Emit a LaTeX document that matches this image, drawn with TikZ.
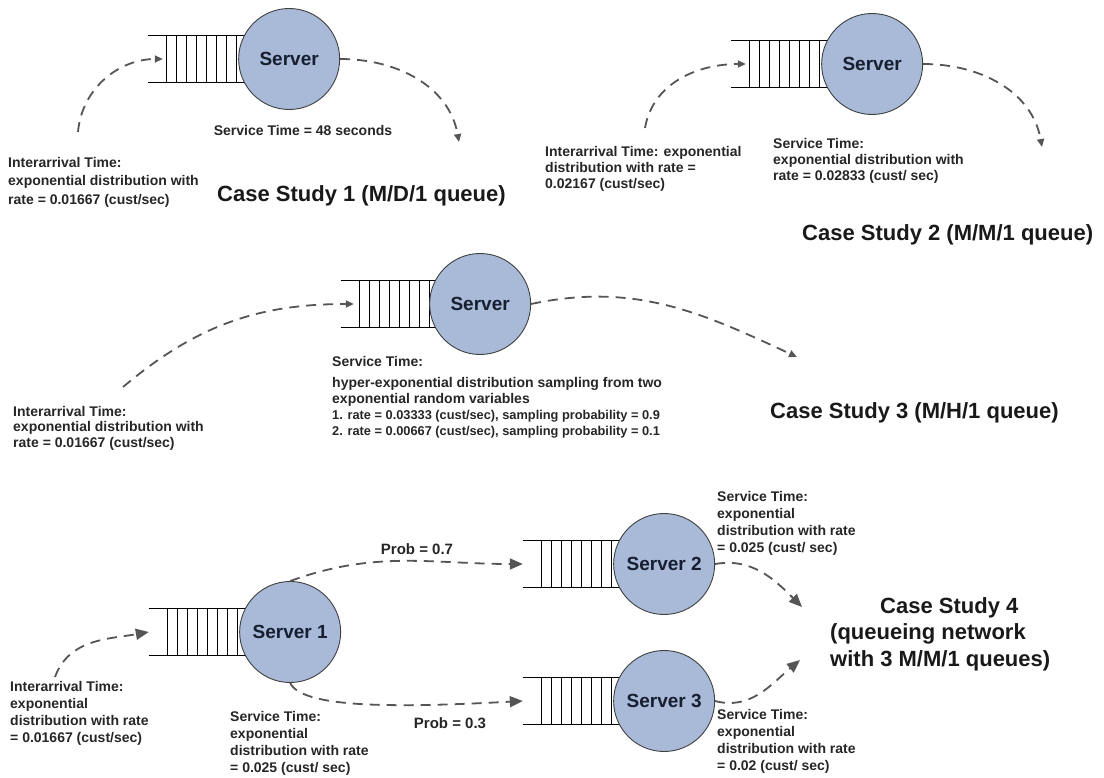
\documentclass[tikz,border=0pt]{standalone}
\usepackage{fontspec}
\setmainfont{Liberation Sans}
\usetikzlibrary{arrows.meta, positioning}

\definecolor{serverfill}{RGB}{168,186,216}
\definecolor{servertext}{RGB}{22,30,48}
\definecolor{flowgray}{RGB}{85,85,85}

\begin{document}
\begin{tikzpicture}[x=1pt, y=1pt,
  queue/.style={minimum width=90pt, minimum height=47pt, inner sep=0pt},
  server/.style={circle, draw=black!75, line width=0.9pt, fill=serverfill,
    minimum size=101pt, inner sep=0pt, text=servertext,
    font=\fontsize{19}{22}\selectfont\bfseries},
  flow/.style={draw=flowgray, line width=1.8pt, dash pattern=on 10pt off 7pt,
    -{Triangle[length=8pt, width=7pt]}},
  bigflow/.style={flow, -{Triangle[length=13pt, width=11pt]}},
  notetext/.style={anchor=north west, inner sep=0pt, align=left, text=black!85,
    font=\fontsize{14}{17}\selectfont\bfseries},
  probtext/.style={inner sep=0pt, text=black!85,
    font=\fontsize{15}{18}\selectfont\bfseries},
  casetitle/.style={anchor=west, inner sep=0pt, text=black!90,
    font=\fontsize{22}{26.5}\selectfont\bfseries}]

  \useasboundingbox (0,0) rectangle (1104,-778);

  % queues (only their place, the lines come below)
  \node[queue] (q1)  at (193,-59)  {};
  \node[queue] (q2)  at (776,-64)  {};
  \node[queue] (q3)  at (386,-304) {};
  \node[queue] (q41) at (194,-632) {};
  \node[queue] (q42) at (568,-564) {};
  \node[queue] (q43) at (568,-701) {};

  \foreach \q in {q1,q2,q3,q41,q42,q43} {
    \draw[line width=0.9pt] (\q.north west) -- ++(120,0);
    \draw[line width=0.9pt] (\q.south west) -- ++(120,0);
    \foreach \i in {0,...,7}
      \draw[line width=0.9pt] ([xshift={19pt+10pt*\i}]\q.south west)
        -- ([xshift={19pt+10pt*\i}]\q.north west);
  }

  % servers sit right of their queues
  \node[server, right=0pt of q1]  (s1)  {Server};
  \node[server, right=0pt of q2]  (s2)  {Server};
  \node[server, right=-2pt of q3] (s3)  {Server};
  \node[server, right=0pt of q41] (s41) {Server 1};
  \node[server, right=0pt of q42] (s42) {Server 2};
  \node[server, right=0pt of q43] (s43) {Server 3};

  % free ends of the arrows
  \coordinate (in1)  at (78,-132);
  \coordinate (out1) at (459,-142);
  \coordinate (in2)  at (645,-128);
  \coordinate (out2) at (1042,-147);
  \coordinate (in3)  at (123,-387);
  \coordinate (out3) at (797,-357);
  \coordinate (in4)  at (55,-677);
  \coordinate (out42) at (802,-607);
  \coordinate (out43) at (800,-660);

  % Case Study 1
  \draw[flow] (in1) to[out=85, in=180] ([xshift=15pt]q1.west);
  \draw[flow] (s1.east) to[out=0, in=100] (out1);
  % Case Study 2
  \draw[flow] (in2) to[out=80, in=180] ([xshift=15pt]q2.west);
  \draw[flow] (s2.east) to[out=0, in=100] (out2);
  % Case Study 3
  \draw[flow] (in3) to[out=40, in=180] ([xshift=13pt]q3.west);
  \draw[flow] (s3.east) to[out=12, in=155] (out3);
  % Case Study 4
  \draw[bigflow] (in4) to[out=70, in=190] (q41.west);
  \draw[bigflow] (s41.north) to[out=20, in=180] (q42.west);
  \draw[bigflow] (s41.south) .. controls +(12,-25) and +(-130,-7) .. (q43.west);
  \draw[bigflow] (s42.east) to[out=10, in=135] (out42);
  \draw[bigflow] (s43.east) to[out=-15, in=220] (out43);

  % texts
  \node[notetext, font=\fontsize{14}{18.5}\selectfont\bfseries] (ia1) at (8,-157)
    {Interarrival Time:\\exponential distribution with\\rate = 0.01667 (cust/sec)};
  \node[probtext, font=\fontsize{14}{17}\selectfont\bfseries] (st1) at (303,-130)
    {Service Time = 48 seconds};
  \node[casetitle] (t1) at (217,-196) {Case Study 1 (M/D/1 queue)};

  \node[notetext, font=\fontsize{14}{16}\selectfont\bfseries] (ia2) at (545,-146)
    {Interarrival Time: exponential\\distribution with rate =\\0.02167 (cust/sec)};
  \node[notetext, font=\fontsize{14}{16}\selectfont\bfseries] (st2) at (773,-138)
    {Service Time:\\exponential distribution with\\rate = 0.02833 (cust/ sec)};
  \node[casetitle] (t2) at (802,-235) {Case Study 2 (M/M/1 queue)};

  \node[notetext, font=\fontsize{14}{15.5}\selectfont\bfseries] (ia3) at (13,-406)
    {Interarrival Time:\\exponential distribution with\\rate = 0.01667 (cust/sec)};
  \node[notetext, font=\fontsize{14}{16}\selectfont\bfseries] (st3) at (332,-356)
    {Service Time:\\[5pt]hyper-exponential distribution sampling from two\\exponential random variables\\
     {\fontsize{12.8}{16}\selectfont 1. rate = 0.03333 (cust/sec), sampling probability = 0.9}\\
     {\fontsize{12.8}{16}\selectfont 2. rate = 0.00667 (cust/sec), sampling probability = 0.1}};
  \node[casetitle] (t3) at (770,-413) {Case Study 3 (M/H/1 queue)};

  \node[notetext] (ia4) at (10,-681)
    {Interarrival Time:\\exponential\\distribution with rate\\= 0.01667 (cust/sec)};
  \node[notetext] (st41) at (230,-711)
    {Service Time:\\exponential\\distribution with rate\\= 0.025 (cust/ sec)};
  \node[notetext] (st42) at (717,-491)
    {Service Time:\\exponential\\distribution with rate\\= 0.025 (cust/ sec)};
  \node[notetext] (st43) at (717,-709)
    {Service Time:\\exponential\\distribution with rate\\= 0.02 (cust/ sec)};
  \node[probtext] (p7) at (417,-549) {Prob = 0.7};
  \node[probtext] (p3) at (450,-723) {Prob = 0.3};
  \node[casetitle, anchor=north west, align=left] (t4) at (830,-597)
    {\hspace*{50pt}Case Study 4\\(queueing network\\with 3 M/M/1 queues)};
\end{tikzpicture}
\end{document}
